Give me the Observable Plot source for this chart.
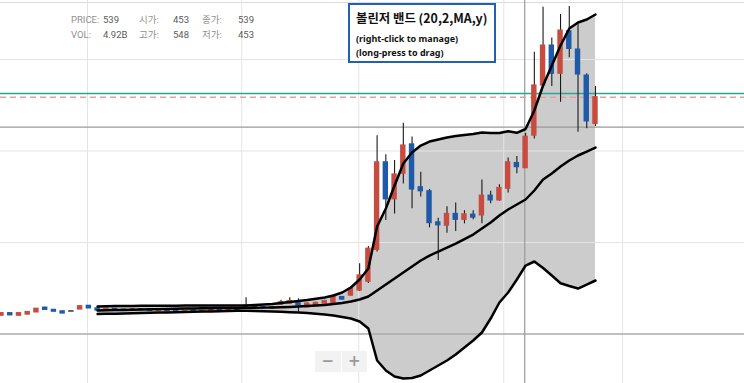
<!DOCTYPE html>
<html>
<head>
<meta charset="utf-8">
<script src="https://cdn.jsdelivr.net/npm/d3@7"></script>
<script src="https://cdn.jsdelivr.net/npm/@observablehq/plot@0.6"></script>
<style>
  html, body { margin: 0; padding: 0; background: #fff; }
  #wrap { position: relative; width: 744px; height: 383px; overflow: hidden; font-family: Roboto, "Noto Sans CJK KR", sans-serif; }
  #wrap svg { display: block; }
  .info { position: absolute; font-size: 9.5px; line-height: 12px; white-space: nowrap; }
  .info.lab { color: #909090; }
  .info.val { color: #5a5a5a; }
  #legend { position: absolute; left: 348px; top: 3px; width: 144px; height: 56px; border: 2px solid #1f62b5; background: #fff; font-family: "Noto Sans", "Noto Sans CJK KR", sans-serif; color: #111; }
  #legend .t { position: absolute; left: 6px; top: 5px; font-family: "Noto Sans CJK KR", sans-serif; font-size: 12.4px; font-weight: 700; white-space: nowrap; line-height: 16px; }
  #legend .s { position: absolute; left: 6px; font-size: 9px; font-weight: 700; white-space: nowrap; line-height: 11px; }
  #zoombtn { position: absolute; left: 315px; top: 351px; width: 52px; height: 21px; display: flex; }
  #zoombtn div { flex: 1; background: #f2f2f2; color: #9a9a9a; font: bold 15px "DejaVu Sans", sans-serif; text-align: center; line-height: 21px; }
  #zoombtn div + div { border-left: 1px solid #fff; }
</style>
</head>
<body>
<div id="wrap"></div>
<script>
// ---- data (price units) ----
const candleIndex = d3.range(69);
const open  = [50,57,50,53,59,72,66,62,63,67,77,70,65,69,67,64,68,66,63,66,63,60,64,60,63,66,63,67,
               72,75,73,70,80,83,89,73,76,80,85,101,105,119,143,230,469,368,438,518,401,390,305,296,328,312,326,
               324,378,365,397,467,453,542,679,788,711,827,777,706,574];
const high  = [57,57,57,60,69,73,66,62,63,76,77,70,70,69,67,68,68,66,66,66,63,63,64,64,66,66,67,67,
               99,77,75,74,92,99,96,85,87,92,108,102,128,192,239,542,490,474,576,538,442,395,316,348,358,337,337,
               421,390,408,481,485,548,770,893,809,873,895,848,711,676];
const low   = [50,51,49,53,59,66,61,56,63,67,70,64,64,66,64,64,65,63,63,62,60,60,60,60,63,63,63,64,
               70,69,68,68,78,81,60,72,75,78,84,93,104,116,138,224,310,328,410,342,374,290,201,275,280,301,312,
               301,356,363,385,438,453,533,674,676,633,755,551,561,567];
const close = [57,51,57,60,69,66,61,56,63,76,70,64,69,66,64,68,65,63,66,62,60,63,60,64,66,63,67,64,
               78,71,70,73,87,90,78,83,85,90,101,94,124,160,233,469,368,436,515,395,390,303,297,328,312,327,318,
               378,365,399,469,456,539,679,788,711,829,779,709,581,647];

// Bollinger band (20,2) values, starting at candle 11
const bandStart = 11;
const bandUpper  = [75.1,75.7,76.2,76.5,76.8,77.0,77.0,77.3,77.3,77.3,77.6,77.6,77.9,77.9,77.9,77.9,77.9,77.9,
                    79.0,80.6,81.9,84.7,87.4,90.2,92.9,96.2,99.7,105.2,113.4,127.0,148.9,178.9,293.7,342.9,405.7,
                    465.8,495.9,515.0,525.9,531.4,536.9,540.9,543.7,546.4,550.5,549.1,549.1,554.1,549.7,560.1,
                    610.6,678.9,733.5,788.2,834.6,851.0,859.2,872.9];
const bandMiddle = [64.2,64.7,65.3,65.8,66.4,66.9,67.5,68.0,68.6,69.1,69.7,69.9,70.2,70.5,70.8,71.0,71.3,71.6,
                    71.9,72.1,72.4,73.2,74.0,75.1,76.5,77.9,79.2,82.0,84.7,88.8,94.3,102.5,118.8,135.2,151.6,
                    168.0,184.4,200.8,214.4,225.4,236.3,247.2,259.5,271.8,288.2,304.6,323.7,340.1,353.8,367.5,
                    392.1,422.1,438.5,457.6,474.0,487.7,498.6,509.5];
const bandLower  = [54.6,55.2,55.7,56.3,56.8,57.4,57.9,58.5,59.0,59.6,60.1,60.7,61.2,61.7,62.3,62.8,63.4,63.7,
                    63.1,62.3,61.5,60.7,59.6,58.7,57.4,55.2,53.3,50.6,46.4,42.3,34.2,15.0,-72.4,-99.7,-116.1,
                    -121.6,-120.2,-113.4,-99.7,-86.0,-72.4,-56.0,-36.9,-17.8,4.1,42.3,86.1,113.4,148.9,187.1,
                    198.1,180.3,159.8,138.8,131.1,124.3,135.2,146.2];

const gridPrices = [250, 500, 750];
const gridCandles = [9.85, 27.5, 40.9, 57.5, 71.1];   // date separators (candle index units)
const crosshairCandle = 59.9;
const crosshairPrice = 565;
const greenLinePrice = 657;
const lastClosePrice = 647;

const infoLabels = [["PRICE:", "시가:", "종가:"], ["VOL:", "고가:", "저가:"]];
const infoValues = [["539", "453", "539"], ["4.92B", "548", "453"]];
const legendTitle = "볼린저 밴드 (20,2,MA,y)";
const legendHints = ["(right-click to manage)", "(long-press to drag)"];

// ---- build ----
const candles = candleIndex.map(i => ({i, o: open[i], h: high[i], l: low[i], c: close[i]}));
const band = bandUpper.map((u, k) => ({i: k + bandStart, u, m: bandMiddle[k], lo: bandLower[k]}));
const RED = "#c84b3f", BLUE = "#1f5aa8";
const col = d => d.c > d.o ? RED : d.c < d.o ? BLUE : "#222";
const bodies = candles.filter(d => d.c !== d.o);
const dojis = candles.filter(d => d.c === d.o);
const yDomain = [-135.2, 911.2];

const chart = Plot.plot({
  width: 744, height: 383,
  marginTop: 0, marginRight: 0, marginBottom: 0, marginLeft: 0,
  x: {type: "linear", domain: [-0.1145, 85.06], axis: null},
  y: {type: "linear", domain: yDomain, axis: null},
  style: {background: "#fff"},
  marks: [
    Plot.ruleY([yDomain[1]], {stroke: "#dcdcdc", dy: 2}),
    Plot.areaY(band, {x: "i", y1: "lo", y2: "u", fill: "#cccccc"}),
    Plot.ruleY(gridPrices, {stroke: "#e4e4e4", strokeWidth: 1}),
    Plot.ruleX(gridCandles, {stroke: "#e4e4e4", strokeWidth: 1}),
    Plot.ruleY([0], {stroke: "#ababab", strokeWidth: 1.6}),
    Plot.ruleY([crosshairPrice], {stroke: "#9a9a9a", strokeWidth: 1.2}),
    Plot.ruleX([crosshairCandle], {stroke: "#9a9a9a", strokeWidth: 1.2}),
    Plot.ruleY([greenLinePrice], {stroke: "#2aa590", strokeWidth: 1.4}),
    Plot.ruleY([lastClosePrice], {stroke: "#e2a3a0", strokeWidth: 1.6, strokeDasharray: "6,4"}),
    Plot.ruleX(candles, {x: "i", y1: "l", y2: "h", stroke: "#1a1a1a", strokeWidth: 1.1}),
    Plot.rect(bodies, {x1: d => d.i - 0.31, x2: d => d.i + 0.31, y1: "o", y2: "c", fill: col, insetTop: -0.6, insetBottom: -0.6}),
    Plot.ruleY(dojis, {y: "o", x1: d => d.i - 0.31, x2: d => d.i + 0.31, stroke: "#222", strokeWidth: 1.4}),
    Plot.line(band, {x: "i", y: "u", stroke: "#000", strokeWidth: 2.5}),
    Plot.line(band, {x: "i", y: "m", stroke: "#000", strokeWidth: 2.5}),
    Plot.line(band, {x: "i", y: "lo", stroke: "#000", strokeWidth: 2.5})
  ]
});

const wrap = document.getElementById("wrap");
wrap.appendChild(chart);

// info overlay
const labelX = [71, 139, 202], valueX = [103, 173, 238], rowY = [14, 29];
infoLabels.forEach((row, r) => row.forEach((lab, c) => {
  const a = document.createElement("div");
  a.className = "info lab"; a.style.left = labelX[c] + "px"; a.style.top = rowY[r] + "px"; a.textContent = lab;
  wrap.appendChild(a);
  const b = document.createElement("div");
  b.className = "info val"; b.style.left = valueX[c] + "px"; b.style.top = rowY[r] + "px"; b.textContent = infoValues[r][c];
  wrap.appendChild(b);
}));

// legend box
const lg = document.createElement("div");
lg.id = "legend";
const t = document.createElement("div"); t.className = "t"; t.textContent = legendTitle; lg.appendChild(t);
legendHints.forEach((h, k) => {
  const s = document.createElement("div"); s.className = "s"; s.style.top = (28 + k * 14) + "px"; s.textContent = h; lg.appendChild(s);
});
wrap.appendChild(lg);

// zoom buttons
const zb = document.createElement("div"); zb.id = "zoombtn";
["−", "+"].forEach(g => { const d = document.createElement("div"); d.textContent = g; zb.appendChild(d); });
wrap.appendChild(zb);
</script>
</body>
</html>
